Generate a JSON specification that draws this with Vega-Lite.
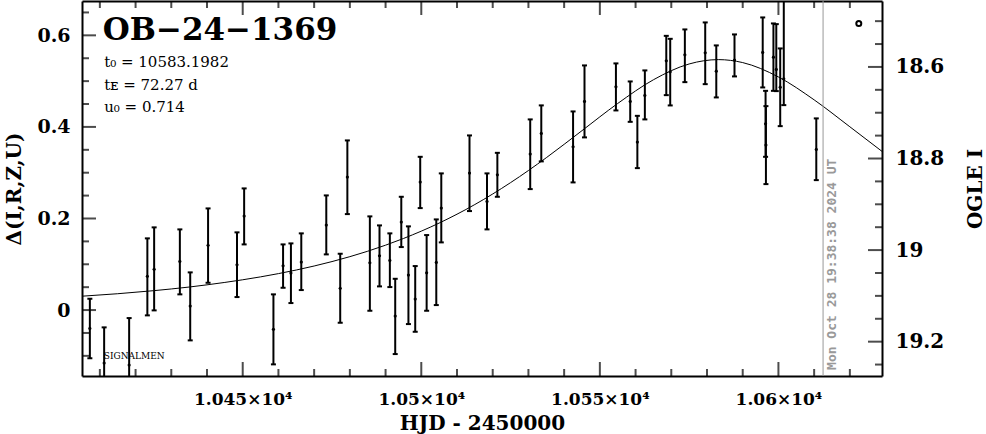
{
  "$schema": "https://vega.github.io/schema/vega-lite/v6.json",
  "width": 800,
  "height": 375,
  "autosize": "none",
  "padding": {"left": 82, "top": 1, "right": 104, "bottom": 58},
  "background": "white",
  "config": {
    "view": {"stroke": null},
    "axis": {
      "domainColor": "black", "domainWidth": 2, "tickColor": "black", "tickWidth": 2,
      "grid": false, "labelFont": "DejaVu Serif", "labelFontWeight": "bold", "labelColor": "black",
      "titleFont": "DejaVu Serif", "titleFontWeight": "bold", "titleColor": "black",
      "labelOverlap": false, "labelFlush": false, "labelBound": false
    }
  },
  "datasets": {
    "obs": [
      {"t": 10407.2, "d": -0.040, "lo": -0.1055, "hi": 0.0247},
      {"t": 10411.2, "d": -0.1157, "lo": -0.1937, "hi": -0.0378},
      {"t": 10418.2, "d": -0.120, "lo": -0.223, "hi": -0.0175},
      {"t": 10423.3, "d": 0.0736, "lo": -0.0116, "hi": 0.1566},
      {"t": 10425.2, "d": 0.0889, "lo": -0.0007, "hi": 0.1806},
      {"t": 10432.4, "d": 0.1063, "lo": 0.0343, "hi": 0.1762},
      {"t": 10435.3, "d": 0.0087, "lo": -0.0662, "hi": 0.0823},
      {"t": 10440.3, "d": 0.1413, "lo": 0.0596, "hi": 0.2220},
      {"t": 10448.4, "d": 0.0989, "lo": 0.0284, "hi": 0.1697},
      {"t": 10450.4, "d": 0.2052, "lo": 0.1434, "hi": 0.2657},
      {"t": 10458.6, "d": -0.0421, "lo": -0.1186, "hi": 0.0343},
      {"t": 10461.3, "d": 0.0967, "lo": 0.0487, "hi": 0.1434},
      {"t": 10463.5, "d": 0.0808, "lo": 0.0153, "hi": 0.1456},
      {"t": 10466.4, "d": 0.1048, "lo": 0.0437, "hi": 0.1675},
      {"t": 10473.4, "d": 0.1856, "lo": 0.1216, "hi": 0.2504},
      {"t": 10477.3, "d": 0.0474, "lo": -0.0277, "hi": 0.1229},
      {"t": 10479.3, "d": 0.2904, "lo": 0.2096, "hi": 0.3705},
      {"t": 10485.6, "d": 0.1033, "lo": -0.0015, "hi": 0.2046},
      {"t": 10488.3, "d": 0.1186, "lo": 0.0517, "hi": 0.1849},
      {"t": 10491.2, "d": 0.1085, "lo": 0.0502, "hi": 0.1675},
      {"t": 10492.7, "d": -0.0131, "lo": -0.0961, "hi": 0.0683},
      {"t": 10494.4, "d": 0.1921, "lo": 0.1376, "hi": 0.2474},
      {"t": 10496.4, "d": 0.0764, "lo": -0.0306, "hi": 0.1828},
      {"t": 10498.3, "d": 0.0240, "lo": -0.0474, "hi": 0.0961},
      {"t": 10499.7, "d": 0.2795, "lo": 0.2227, "hi": 0.3347},
      {"t": 10501.5, "d": 0.0814, "lo": -0.0015, "hi": 0.1638},
      {"t": 10504.2, "d": 0.1041, "lo": 0.0109, "hi": 0.1980},
      {"t": 10505.6, "d": 0.2227, "lo": 0.1478, "hi": 0.2985},
      {"t": 10513.5, "d": 0.2991, "lo": 0.2162, "hi": 0.3814},
      {"t": 10518.4, "d": 0.2373, "lo": 0.1762, "hi": 0.2985},
      {"t": 10521.3, "d": 0.2954, "lo": 0.2474, "hi": 0.3434},
      {"t": 10530.5, "d": 0.3406, "lo": 0.2642, "hi": 0.4164},
      {"t": 10533.6, "d": 0.3858, "lo": 0.3247, "hi": 0.4470},
      {"t": 10542.5, "d": 0.3566, "lo": 0.2788, "hi": 0.4338},
      {"t": 10545.7, "d": 0.4557, "lo": 0.3771, "hi": 0.5343},
      {"t": 10554.5, "d": 0.4876, "lo": 0.4360, "hi": 0.5387},
      {"t": 10558.5, "d": 0.4557, "lo": 0.4111, "hi": 0.4993},
      {"t": 10560.5, "d": 0.3668, "lo": 0.3100, "hi": 0.4242},
      {"t": 10562.6, "d": 0.4688, "lo": 0.4164, "hi": 0.5234},
      {"t": 10568.6, "d": 0.5443, "lo": 0.4694, "hi": 0.5989},
      {"t": 10569.7, "d": 0.5203, "lo": 0.4469, "hi": 0.5924},
      {"t": 10573.8, "d": 0.5574, "lo": 0.4978, "hi": 0.6129},
      {"t": 10579.5, "d": 0.5618, "lo": 0.4934, "hi": 0.6282},
      {"t": 10582.6, "d": 0.5218, "lo": 0.4644, "hi": 0.5780},
      {"t": 10587.7, "d": 0.5459, "lo": 0.5103, "hi": 0.6020},
      {"t": 10595.6, "d": 0.5627, "lo": 0.4862, "hi": 0.6391},
      {"t": 10596.4, "d": 0.4068, "lo": 0.3347, "hi": 0.4788},
      {"t": 10596.5, "d": 0.3603, "lo": 0.2751, "hi": 0.4454},
      {"t": 10598.6, "d": 0.5524, "lo": 0.4788, "hi": 0.6260},
      {"t": 10599.4, "d": 0.5256, "lo": 0.4782, "hi": 0.6245},
      {"t": 10600.5, "d": 0.4869, "lo": 0.4017, "hi": 0.5714},
      {"t": 10601.5, "d": 0.5050, "lo": 0.4476, "hi": 0.6878},
      {"t": 10610.6, "d": 0.3509, "lo": 0.2838, "hi": 0.4186}
    ],
    "model": [
      {"t": 10405, "d": 0.0303}, {"t": 10415, "d": 0.0357}, {"t": 10425, "d": 0.0423},
      {"t": 10435, "d": 0.0503}, {"t": 10445, "d": 0.0604}, {"t": 10455, "d": 0.0725},
      {"t": 10465, "d": 0.0875}, {"t": 10475, "d": 0.1059}, {"t": 10485, "d": 0.1285},
      {"t": 10495, "d": 0.1563}, {"t": 10505, "d": 0.1900}, {"t": 10515, "d": 0.2305},
      {"t": 10525, "d": 0.2783}, {"t": 10535, "d": 0.3327}, {"t": 10545, "d": 0.3919},
      {"t": 10555, "d": 0.4512}, {"t": 10565, "d": 0.5030}, {"t": 10575, "d": 0.5375},
      {"t": 10583.2, "d": 0.5470}, {"t": 10590, "d": 0.5405}, {"t": 10600, "d": 0.5091},
      {"t": 10610, "d": 0.4591}, {"t": 10620, "d": 0.4003}, {"t": 10629, "d": 0.3466}
    ],
    "xmaj": [{"t": 10450}, {"t": 10500}, {"t": 10550}, {"t": 10600}],
    "xmin": [
      {"t": 10410}, {"t": 10420}, {"t": 10430}, {"t": 10440}, {"t": 10460}, {"t": 10470},
      {"t": 10480}, {"t": 10490}, {"t": 10510}, {"t": 10520}, {"t": 10530}, {"t": 10540},
      {"t": 10560}, {"t": 10570}, {"t": 10580}, {"t": 10590}, {"t": 10610}, {"t": 10620}
    ],
    "ymaj": [{"d": 0}, {"d": 0.2}, {"d": 0.4}, {"d": 0.6}],
    "ymin": [
      {"d": -0.1}, {"d": -0.05}, {"d": 0.05}, {"d": 0.1}, {"d": 0.15}, {"d": 0.25},
      {"d": 0.3}, {"d": 0.35}, {"d": 0.45}, {"d": 0.5}, {"d": 0.55}, {"d": 0.65}
    ],
    "magmaj": [
      {"mag": 18.6, "d": 0.531}, {"mag": 18.8, "d": 0.331}, {"mag": 19.0, "d": 0.131}, {"mag": 19.2, "d": -0.069}
    ],
    "magmin": [
      {"mag": 18.5, "d": 0.631}, {"mag": 18.55, "d": 0.581}, {"mag": 18.65, "d": 0.481},
      {"mag": 18.7, "d": 0.431}, {"mag": 18.75, "d": 0.381}, {"mag": 18.85, "d": 0.281},
      {"mag": 18.9, "d": 0.231}, {"mag": 18.95, "d": 0.181}, {"mag": 19.05, "d": 0.081},
      {"mag": 19.1, "d": 0.031}, {"mag": 19.15, "d": -0.019}, {"mag": 19.25, "d": -0.119}
    ]
  },
  "resolve": {"axis": {"x": "independent", "y": "independent"}},
  "layer": [
    {
      "data": {"name": "model"},
      "mark": {"type": "line", "color": "black", "strokeWidth": 1, "interpolate": "monotone", "clip": true},
      "encoding": {
        "x": {"field": "t", "type": "quantitative",
          "scale": {"domain": [10405, 10629], "nice": false, "zero": false},
          "axis": {"orient": "bottom", "title": "HJD - 2450000", "titleFontSize": 20, "titlePadding": 6,
            "values": [10450, 10500, 10550, 10600], "tickSize": 0, "domain": true,
            "labelPadding": 15, "labelFontSize": 17,
            "labelExpr": "format(datum.value/10000, '~g') + '×10⁴'"}},
        "y": {"field": "d", "type": "quantitative",
          "scale": {"domain": [-0.144, 0.675], "nice": false, "zero": false},
          "axis": {"orient": "left", "title": "Δ(I,R,Z,U)", "titleFontSize": 20, "titlePadding": 12,
            "values": [0, 0.2, 0.4, 0.6], "tickSize": 0, "format": "~g", "domain": true,
            "labelPadding": 12, "labelFontSize": 19}}
      }
    },
    {
      "data": {"name": "magmaj"},
      "mark": {"type": "tick", "orient": "horizontal", "color": "black", "thickness": 2, "size": 28, "clip": true},
      "encoding": {
        "x": {"datum": 10629, "axis": null},
        "y": {"field": "d", "type": "quantitative",
          "axis": {"orient": "right", "title": "OGLE I", "titleFontSize": 20, "titleAngle": 270, "titlePadding": 42,
            "values": [0.531, 0.331, 0.131, -0.069], "tickSize": 0, "domain": true,
            "labelExpr": "format(19.131 - datum.value, '.1~f')",
            "labelPadding": 13, "labelFontSize": 20}}
      }
    },
    {
      "data": {"name": "magmin"},
      "mark": {"type": "tick", "orient": "horizontal", "color": "black", "thickness": 2, "size": 14, "clip": true},
      "encoding": {
        "x": {"datum": 10629, "axis": null},
        "y": {"field": "d", "type": "quantitative", "axis": null}
      }
    },
    {
      "data": {"name": "xmaj"},
      "mark": {"type": "tick", "orient": "vertical", "color": "black", "thickness": 2, "size": 28, "clip": true},
      "encoding": {
        "x": {"field": "t", "type": "quantitative",
          "axis": {"orient": "top", "title": null, "labels": false, "ticks": false, "tickSize": 0, "domain": true}},
        "y": {"datum": 0.675, "axis": null}
      }
    },
    {
      "data": {"name": "xmaj"},
      "mark": {"type": "tick", "orient": "vertical", "color": "black", "thickness": 2, "size": 28, "clip": true},
      "encoding": {
        "x": {"field": "t", "type": "quantitative", "axis": null},
        "y": {"datum": -0.144, "axis": null}
      }
    },
    {
      "data": {"name": "xmin"},
      "mark": {"type": "tick", "orient": "vertical", "color": "black", "thickness": 2, "size": 14, "clip": true},
      "encoding": {
        "x": {"field": "t", "type": "quantitative", "axis": null},
        "y": {"datum": 0.675, "axis": null}
      }
    },
    {
      "data": {"name": "xmin"},
      "mark": {"type": "tick", "orient": "vertical", "color": "black", "thickness": 2, "size": 14, "clip": true},
      "encoding": {
        "x": {"field": "t", "type": "quantitative", "axis": null},
        "y": {"datum": -0.144, "axis": null}
      }
    },
    {
      "data": {"name": "ymaj"},
      "mark": {"type": "tick", "orient": "horizontal", "color": "black", "thickness": 2, "size": 28, "clip": true},
      "encoding": {
        "x": {"datum": 10405, "axis": null},
        "y": {"field": "d", "type": "quantitative", "axis": null}
      }
    },
    {
      "data": {"name": "ymin"},
      "mark": {"type": "tick", "orient": "horizontal", "color": "black", "thickness": 2, "size": 14, "clip": true},
      "encoding": {
        "x": {"datum": 10405, "axis": null},
        "y": {"field": "d", "type": "quantitative", "axis": null}
      }
    },
    {
      "data": {"name": "obs"},
      "mark": {"type": "rule", "color": "black", "strokeWidth": 2, "clip": true},
      "encoding": {
        "x": {"field": "t", "type": "quantitative", "axis": null},
        "y": {"field": "lo", "type": "quantitative", "axis": null},
        "y2": {"field": "hi"}
      }
    },
    {
      "data": {"name": "obs"},
      "mark": {"type": "tick", "color": "black", "orient": "horizontal", "size": 5, "thickness": 2, "clip": true, "opacity": 1},
      "encoding": {
        "x": {"field": "t", "type": "quantitative", "axis": null},
        "y": {"field": "lo", "type": "quantitative", "axis": null}
      }
    },
    {
      "data": {"name": "obs"},
      "mark": {"type": "tick", "color": "black", "orient": "horizontal", "size": 5, "thickness": 2, "clip": true, "opacity": 1},
      "encoding": {
        "x": {"field": "t", "type": "quantitative", "axis": null},
        "y": {"field": "hi", "type": "quantitative", "axis": null}
      }
    },
    {
      "data": {"name": "obs"},
      "mark": {"type": "point", "filled": true, "color": "black", "size": 10, "opacity": 1, "clip": true},
      "encoding": {
        "x": {"field": "t", "type": "quantitative", "axis": null},
        "y": {"field": "d", "type": "quantitative", "axis": null}
      }
    },
    {
      "data": {"values": [{"label": "OB−24−1369"}]},
      "mark": {"type": "text", "align": "left", "baseline": "alphabetic", "font": "DejaVu Serif", "fontWeight": "bold", "fontSize": 31, "color": "black"},
      "encoding": {"x": {"datum": 10410.8, "axis": null}, "y": {"datum": 0.5895, "axis": null}, "text": {"field": "label"}}
    },
    {
      "data": {"values": [
        {"label": "t₀ = 10583.1982", "yy": 0.531},
        {"label": "tᴇ = 72.27 d", "yy": 0.480},
        {"label": "u₀ = 0.714", "yy": 0.433}
      ]},
      "mark": {"type": "text", "align": "left", "baseline": "alphabetic", "font": "DejaVu Serif", "fontSize": 15, "color": "black"},
      "encoding": {"x": {"datum": 10411.2, "axis": null}, "y": {"field": "yy", "type": "quantitative", "axis": null}, "text": {"field": "label"}}
    },
    {
      "data": {"values": [{"label": "SIGNALMEN"}]},
      "mark": {"type": "text", "align": "left", "baseline": "alphabetic", "font": "DejaVu Serif", "fontSize": 9, "color": "black"},
      "encoding": {"x": {"datum": 10411.1, "axis": null}, "y": {"datum": -0.107, "axis": null}, "text": {"field": "label"}}
    },
    {
      "data": {"values": [{"label": "now"}]},
      "mark": {"type": "rule", "color": "#999999", "strokeWidth": 1},
      "encoding": {"x": {"datum": 10612.5, "axis": null}}
    },
    {
      "data": {"values": [{"label": "Mon Oct 28 19:38:38 2024 UT"}]},
      "mark": {"type": "text", "angle": 270, "align": "center", "baseline": "middle", "font": "DejaVu Sans Mono", "fontWeight": "bold", "fontSize": 13, "color": "#999999"},
      "encoding": {"x": {"datum": 10615.0, "axis": null}, "y": {"datum": 0.1, "axis": null}, "text": {"field": "label"}}
    },
    {
      "data": {"values": [{"label": "o"}]},
      "mark": {"type": "point", "shape": "circle", "filled": false, "color": "black", "strokeWidth": 2, "size": 25, "opacity": 1},
      "encoding": {"x": {"datum": 10622.5, "axis": null}, "y": {"datum": 0.626, "axis": null}}
    }
  ]
}
